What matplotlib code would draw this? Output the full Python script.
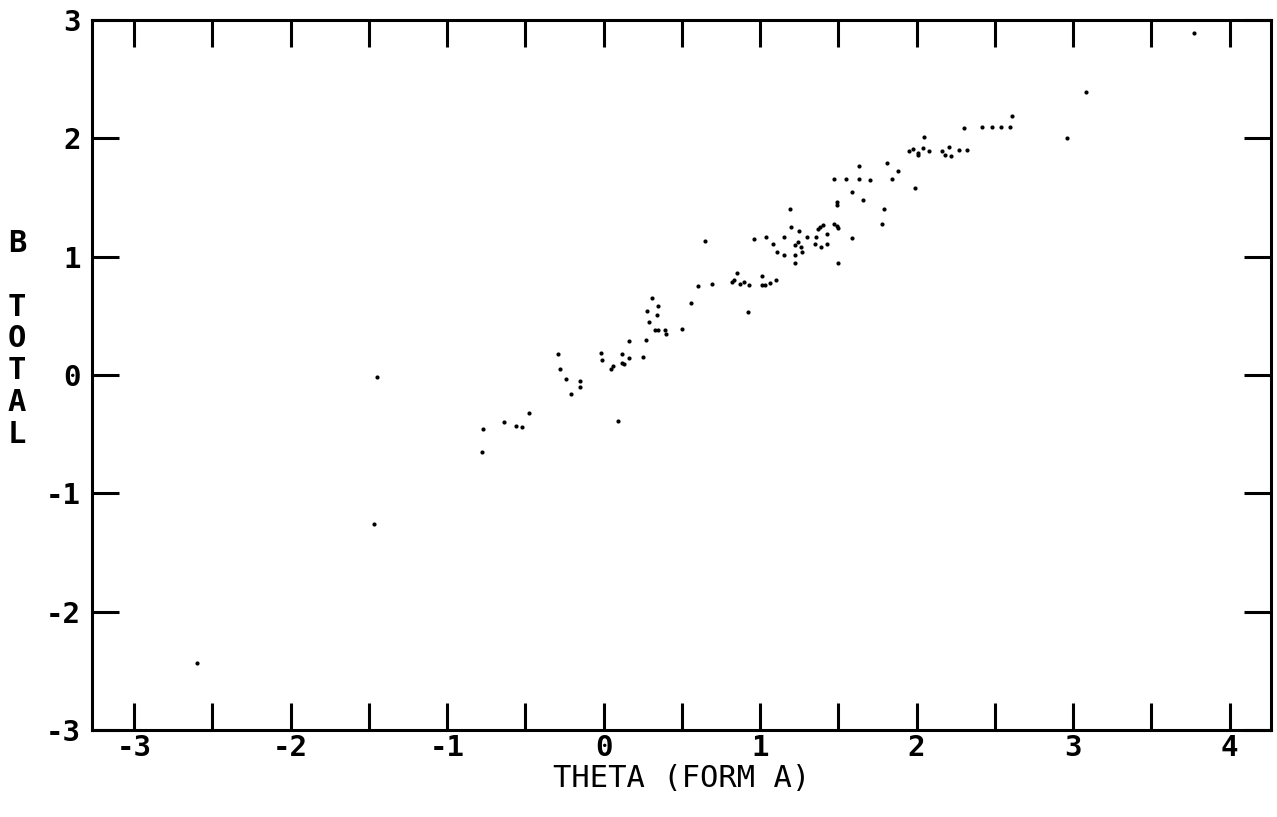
import matplotlib
matplotlib.use('Agg')
import matplotlib.pyplot as plt
import numpy as np

# valores (theta forma A vs B total)
theta = [-2.60, -1.45, -1.47, -0.78, -0.77, -0.64, -0.56, -0.52, -0.48, -0.29,
         -0.28, -0.24, -0.15, -0.15, -0.21, -0.02, -0.01, 0.12, 0.16, 0.12,
         0.13, 0.06, 0.05, 0.09, 0.16, 0.25, 0.27, 0.31, 0.35, 0.28,
         0.34, 0.29, 0.33, 0.35, 0.39, 0.40, 0.50, 0.56, 0.60, 0.69,
         0.65, 0.85, 0.82, 0.83, 0.87, 0.90, 0.93, 1.01, 1.01, 1.03,
         1.06, 1.10, 0.92, 0.96, 1.04, 1.15, 1.30, 1.36, 1.08, 1.24,
         1.22, 1.26, 1.27, 1.35, 1.39, 1.43, 1.11, 1.15, 1.22, 1.22,
         1.50, 1.20, 1.25, 1.38, 1.40, 1.37, 1.47, 1.49, 1.43, 1.19,
         1.59, 1.50, 1.78, 1.79, 1.49, 1.49, 1.66, 1.59, 1.99, 1.47,
         1.55, 1.63, 1.70, 1.84, 1.88, 1.63, 1.81, 2.05, 1.95, 1.98,
         2.01, 2.01, 2.04, 2.08, 2.16, 2.18, 2.22, 2.21, 2.27, 2.32,
         2.30, 2.42, 2.48, 2.54, 2.60, 2.61, 2.96, 3.08, 3.77]
b_total = [-2.43, -0.02, -1.26, -0.65, -0.46, -0.40, -0.43, -0.44, -0.32, 0.18,
           0.05, -0.03, -0.05, -0.10, -0.16, 0.19, 0.13, 0.18, 0.14, 0.10,
           0.09, 0.08, 0.05, -0.39, 0.29, 0.15, 0.30, 0.65, 0.58, 0.54,
           0.51, 0.45, 0.38, 0.38, 0.38, 0.35, 0.39, 0.61, 0.75, 0.77,
           1.13, 0.86, 0.79, 0.80, 0.77, 0.79, 0.76, 0.84, 0.76, 0.76,
           0.78, 0.80, 0.53, 1.15, 1.17, 1.17, 1.17, 1.17, 1.11, 1.12,
           1.10, 1.08, 1.04, 1.11, 1.08, 1.11, 1.04, 1.01, 1.01, 0.95,
           0.95, 1.25, 1.22, 1.25, 1.27, 1.23, 1.28, 1.26, 1.19, 1.40,
           1.16, 1.24, 1.28, 1.40, 1.46, 1.44, 1.48, 1.55, 1.58, 1.66,
           1.66, 1.66, 1.65, 1.66, 1.72, 1.77, 1.79, 2.01, 1.89, 1.91,
           1.88, 1.86, 1.92, 1.89, 1.89, 1.86, 1.85, 1.93, 1.90, 1.90,
           2.09, 2.10, 2.10, 2.10, 2.10, 2.19, 2.00, 2.39, 2.89]

x_ticks = [-3, -2, -1, 0, 1, 2, 3, 4]
x_minor = [-2.5, -1.5, -0.5, 0.5, 1.5, 2.5, 3.5]
y_ticks = [-3, -2, -1, 0, 1, 2, 3]

fonte = 'DejaVu Sans Mono'

fig = plt.figure(figsize=(12.77, 8.17), dpi=100)
ax = fig.add_axes([92 / 1277, 87 / 817, 1179 / 1277, 710 / 817])

ax.plot(theta, b_total, 'o', color='black', markersize=3.0, markeredgewidth=0)

ax.set_xlim(-3.27, 4.265)
ax.set_ylim(-3, 3)

ax.set_xticks(x_ticks)
ax.set_xticks(x_minor, minor=True)
ax.set_yticks(y_ticks)
ax.set_xticklabels([str(v) for v in x_ticks],
                   fontname=fonte, fontsize=21, fontweight='bold')
ax.set_yticklabels([str(v) for v in y_ticks],
                   fontname=fonte, fontsize=21, fontweight='bold')

ax.tick_params(axis='x', which='both', direction='in', length=19.5, width=2.2,
               top=True, bottom=True, pad=3)
ax.tick_params(axis='y', which='major', direction='in', length=19.5, width=2.2,
               left=True, right=True, pad=8)

for lado in ax.spines.values():
    lado.set_linewidth(2.2)

ax.set_xlabel('THETA (FORM A)', fontname=fonte, fontsize=22, labelpad=1)
fig.text(17 / 1277, 1 - 229 / 817, 'B\n\nT\nO\nT\nA\nL', fontname=fonte,
         fontsize=22, fontweight='bold', ha='center', va='top', linespacing=1.12)

fig.savefig('out.png', dpi=100)
